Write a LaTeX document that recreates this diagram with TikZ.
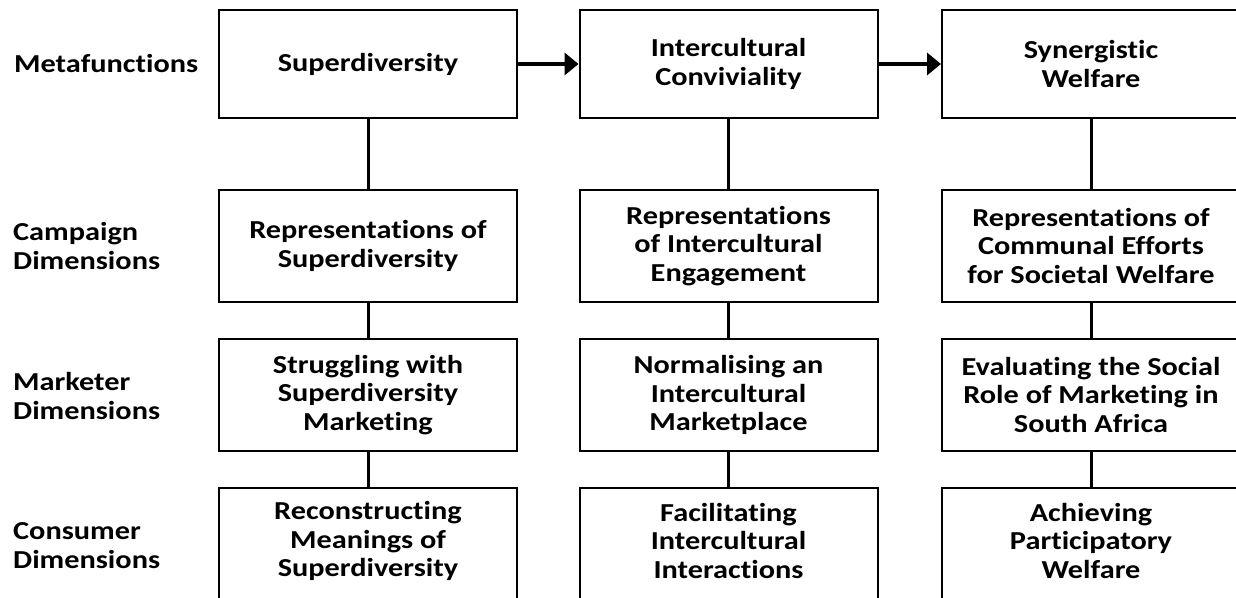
\documentclass[tikz,border=0pt]{standalone}
\usepackage{fontspec}
\setmainfont{Carlito}[FakeStretch=1.17, Ligatures=NoCommon]
\usetikzlibrary{arrows.meta}
\begin{document}
\begin{tikzpicture}[x=1bp,y=-1bp,
  box/.style={draw=black, line width=2bp, minimum width=298bp, align=center, inner sep=0pt,
    font=\fontsize{26}{29}\selectfont\bfseries},
  txt/.style={align=center, inner sep=0pt, font=\fontsize{26}{29}\selectfont\bfseries},
  lbl/.style={anchor=west, align=left, inner sep=0pt, font=\fontsize{26}{29}\selectfont\bfseries},
  conn/.style={line width=3bp},
  arr/.style={line width=3.5bp, -{Triangle[length=14bp,width=22bp]}}]
\useasboundingbox (0,0) rectangle (1236,598);
\clip (0,0) rectangle (1236,598);
% row labels
\node[lbl] (l1) at (14,64) {Metafunctions};
\node[lbl] (l2) at (13,246) {Campaign\\Dimensions};
\node[lbl] (l3) at (13,396) {Marketer\\Dimensions};
\node[lbl] (l4) at (13,546) {Consumer\\Dimensions};
% row 1
\node[box, minimum height=108bp] (m1) at (368,64) {Superdiversity};
\node[box, minimum height=108bp] (m2) at (728.5,64) {Intercultural\\Conviviality};
\node[box, minimum height=108bp] (m3) at (1091,64) {Synergistic\\Welfare};
% row 2
\node[box, minimum height=111bp] (c1) at (368,246) {Representations of\\Superdiversity};
\node[box, minimum height=111bp] (c2) at (728.5,246) {Representations\\of Intercultural\\Engagement};
\node[box, minimum height=111bp] (c3) at (1091,246) {Representations of\\Communal Efforts\\for Societal Welfare};
% row 3
\node[box, minimum height=112bp] (k1) at (368,395) {Struggling with\\Superdiversity\\Marketing};
\node[box, minimum height=112bp] (k2) at (728.5,395) {Normalising an\\Intercultural\\Marketplace};
\node[box, minimum height=112bp] (k3) at (1091,395) {Evaluating the Social\\Role of Marketing in\\South Africa};
% row 4 (cut off at bottom)
\node[box, minimum height=125bp, anchor=north] (u1) at (368,487) {};
\node[box, minimum height=125bp, anchor=north] (u2) at (728.5,487) {};
\node[box, minimum height=125bp, anchor=north] (u3) at (1091,487) {};
\node[txt] (t1) at (368,541) {Reconstructing\\Meanings of\\Superdiversity};
\node[txt] (t2) at (728.5,541) {Facilitating\\Intercultural\\Interactions};
\node[txt] (t3) at (1091,541) {Achieving\\Participatory\\Welfare};
% connectors
\draw[arr] (m1.east) -- (m2.west);
\draw[arr] (m2.east) -- (m3.west);
\draw[conn] (m1.south) -- (c1.north);
\draw[conn] (m2.south) -- (c2.north);
\draw[conn] (m3.south) -- (c3.north);
\draw[conn] (c1.south) -- (k1.north);
\draw[conn] (c2.south) -- (k2.north);
\draw[conn] (c3.south) -- (k3.north);
\draw[conn] (k1.south) -- (u1.north);
\draw[conn] (k2.south) -- (u2.north);
\draw[conn] (k3.south) -- (u3.north);
\end{tikzpicture}
\end{document}
